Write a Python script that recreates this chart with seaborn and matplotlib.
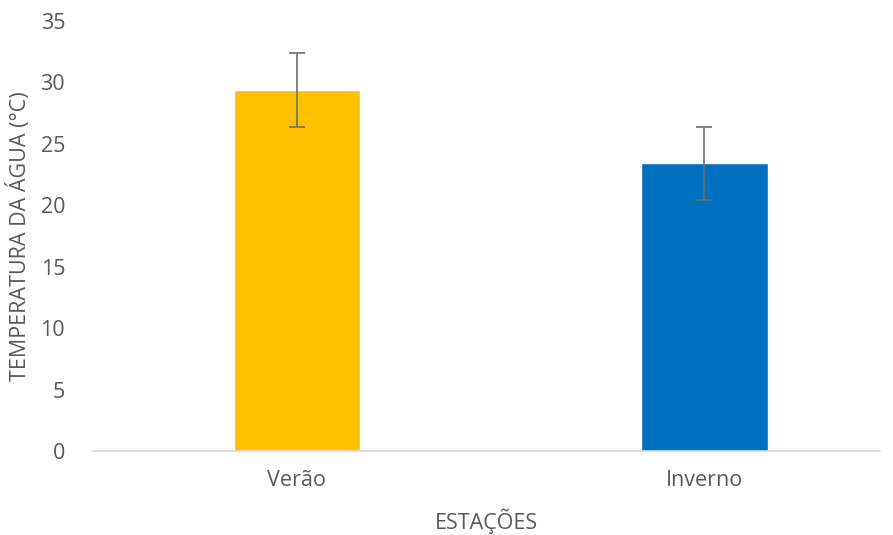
import matplotlib
matplotlib.use("Agg")
import matplotlib.pyplot as plt
import seaborn as sns
import pandas as pd

categories = ["Verão", "Inverno"]
means = [29.4, 23.4]
errors = [3.0, 3.0]
colors = ["#FFC000", "#0070C0"]
yticks = [0, 5, 10, 15, 20, 25, 30, 35]

sns.set_style("white")
plt.rcParams['font.family'] = ['Open Sans', 'DejaVu Sans']

df = pd.DataFrame({"estacao": categories, "temp": means})

fig = plt.figure(figsize=(8.93, 5.35), dpi=100)
ax = fig.add_axes([0.104, 0.157, 0.881, 0.804])
sns.barplot(data=df, x="estacao", y="temp", hue="estacao", palette=colors,
            width=0.31, legend=False, ax=ax, saturation=1)
ax.errorbar(range(len(categories)), means, yerr=errors, fmt="none",
            ecolor="#6e6e6e", elinewidth=1.2, capsize=6, capthick=1.2)

ax.set_ylim(0, 35)
ax.set_yticks(yticks)
ax.set_xlim(-0.5, 1.43)
text_color = "#595959"
ax.tick_params(axis="both", length=0, labelsize=15.5, colors=text_color)
ax.tick_params(axis="y", pad=20)
ax.tick_params(axis="x", pad=14)
ax.set_xlabel("ESTAÇÕES", fontsize=15.5, color=text_color, labelpad=12)
ax.set_ylabel("TEMPERATURA DA ÁGUA (°C)", fontsize=15.5, color=text_color, labelpad=7)
for s in ["top", "right", "left"]:
    ax.spines[s].set_visible(False)
ax.spines["bottom"].set_color("#d9d9d9")
ax.spines["bottom"].set_linewidth(1.2)

fig.savefig("out.png", dpi=100)
